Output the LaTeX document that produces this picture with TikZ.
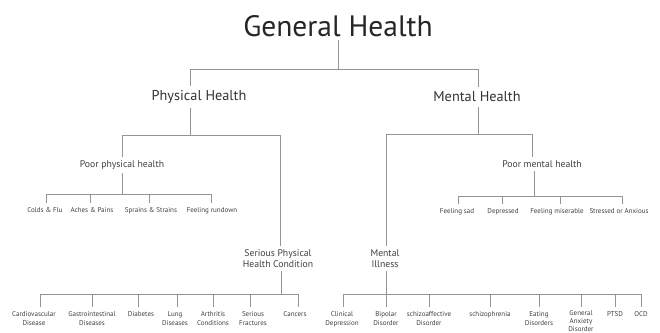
\documentclass[tikz,border=0pt]{standalone}
\usepackage{fontspec}
\setmainfont{PT Sans}
\begin{document}
\begin{tikzpicture}[x=1pt,y=-1pt,
  conn/.style={draw=black!42, line width=0.8pt},
  titlebox/.style={font=\fontsize{29.5}{31}\selectfont, text=black!85, inner sep=3.5pt},
  lvlone/.style={font=\fontsize{14.3}{16}\selectfont, text=black!80, inner ysep=4.5pt},
  lvltwo/.style={font=\fontsize{9.7}{11.2}\selectfont, text=black!75, inner ysep=3.5pt, align=center},
  leaf/.style={font=\fontsize{7}{8.7}\selectfont, text=black!75, anchor=north, inner ysep=4.5pt, inner xsep=1pt, align=center}]
\useasboundingbox[fill=white] (0,0) rectangle (660,332);

% main nodes
\node[titlebox] (gh) at (338,26) {General Health};
\node[lvlone] (ph) at (199,97) {Physical Health};
\node[lvlone] (mh) at (477,97) {Mental Health};
\node[lvltwo] (pph) at (122,165) {Poor physical health};
\node[lvltwo] (pmh) at (542,164) {Poor mental health};
\node[lvltwo] (sph) at (278,258.5) {Serious Physical\\Health Condition};
\node[lvltwo] (mi) at (385,258.5) {Mental\\Illness};

% leaves: poor physical health
\node[leaf] (colds) at (45,203) {Colds \& Flu};
\node[leaf] (aches) at (92,203) {Aches \& Pains};
\node[leaf] (sprains) at (151,203) {Sprains \& Strains};
\node[leaf] (rundown) at (212,203) {Feeling rundown};

% leaves: poor mental health
\node[leaf] (sad) at (457,204) {Feeling sad};
\node[leaf] (depressed) at (503,204) {Depressed};
\node[leaf] (miserable) at (557,204) {Feeling miserable};
\node[leaf] (stressed) at (619,204) {Stressed or Anxious};

% leaves: serious physical
\node[leaf] (cardio) at (34,307) {Cardiovascular\\Disease};
\node[leaf] (gastro) at (92,307) {Gastrointestinal\\Diseases};
\node[leaf] (diabetes) at (141,307) {Diabetes};
\node[leaf] (lung) at (175,307) {Lung\\Diseases};
\node[leaf] (arthritis) at (213,307) {Arthritis\\Conditions};
\node[leaf] (fractures) at (253,307) {Serious\\Fractures};
\node[leaf] (cancers) at (295,307) {Cancers};

% leaves: mental illness
\node[leaf] (clinical) at (342,307) {Clinical\\Depression};
\node[leaf] (bipolar) at (386,307) {Bipolar\\Disorder};
\node[leaf] (schizoaff) at (429,307) {schizoaffective\\Disorder};
\node[leaf] (schizo) at (490,307) {schizophrenia};
\node[leaf] (eating) at (539,307) {Eating\\Disorders};
\node[leaf, font=\fontsize{7}{7.9}\selectfont, inner ysep=3.5pt] (gad) at (581,307) {General\\Anxiety\\Disorder};
\node[leaf] (ptsd) at (615,307) {PTSD};
\node[leaf] (ocd) at (641,307) {OCD};

% bus coordinates
\coordinate (b1) at (338,69);
\coordinate (b2) at (190,135);
\coordinate (b3) at (478.5,134);
\coordinate (b4) at (122,194);
\coordinate (b5) at (534,196);
\coordinate (b6) at (281,294);
\coordinate (b7) at (386,294);

% level 1
\draw[conn] (gh.south) -- (b1) -| ([xshift=-9pt]ph.north);
\draw[conn] (b1) -| ([xshift=1.5pt]mh.north);

% level 2
\draw[conn] (ph.south -| b2) -- (b2) -| (pph.north);
\draw[conn] (b2) -| ([xshift=2.5pt]sph.north);
\draw[conn] (mh.south -| b3) -- (b3) -| ([xshift=1.5pt]mi.north);
\draw[conn] (b3) -| ([xshift=-10pt]pmh.north);

% poor physical health
\draw[conn] (pph.south) -- (b4);
\draw[conn] (b4) -| ([xshift=1pt]colds.north);
\draw[conn] (b4) -| ([xshift=-2pt]aches.north);
\draw[conn] (b4) -| ([xshift=-2pt]sprains.north);
\draw[conn] (b4) -| ([xshift=-1pt]rundown.north);

% poor mental health
\draw[conn] (pmh.south -| b5) -- (b5);
\draw[conn] (b5) -| ([xshift=1pt]sad.north);
\draw[conn] (b5) -| ([xshift=-1pt]depressed.north);
\draw[conn] (b5) -| ([xshift=3pt]miserable.north);
\draw[conn] (b5) -| ([xshift=3pt]stressed.north);

% serious physical health condition
\draw[conn] (sph.south -| b6) -- (b6);
\draw[conn] (b6) -| ([xshift=6pt]cardio.north);
\draw[conn] (b6) -| (gastro.north);
\draw[conn] (b6) -| ([xshift=-3pt]diabetes.north);
\draw[conn] (b6) -| ([xshift=2pt]lung.north);
\draw[conn] (b6) -| (arthritis.north);
\draw[conn] (b6) -| ([xshift=-3pt]fractures.north);
\draw[conn] (b6) -| ([xshift=3pt]cancers.north);

% mental illness
\draw[conn] (mi.south -| b7) -- (b7);
\draw[conn] (b7) -| ([xshift=1pt]clinical.north);
\draw[conn] (b7) -| (bipolar.north);
\draw[conn] (b7) -| (schizoaff.north);
\draw[conn] (b7) -| (schizo.north);
\draw[conn] (b7) -| (eating.north);
\draw[conn] (b7) -| (gad.north);
\draw[conn] (b7) -| (ptsd.north);
\draw[conn] (b7) -| (ocd.north);
\end{tikzpicture}
\end{document}
